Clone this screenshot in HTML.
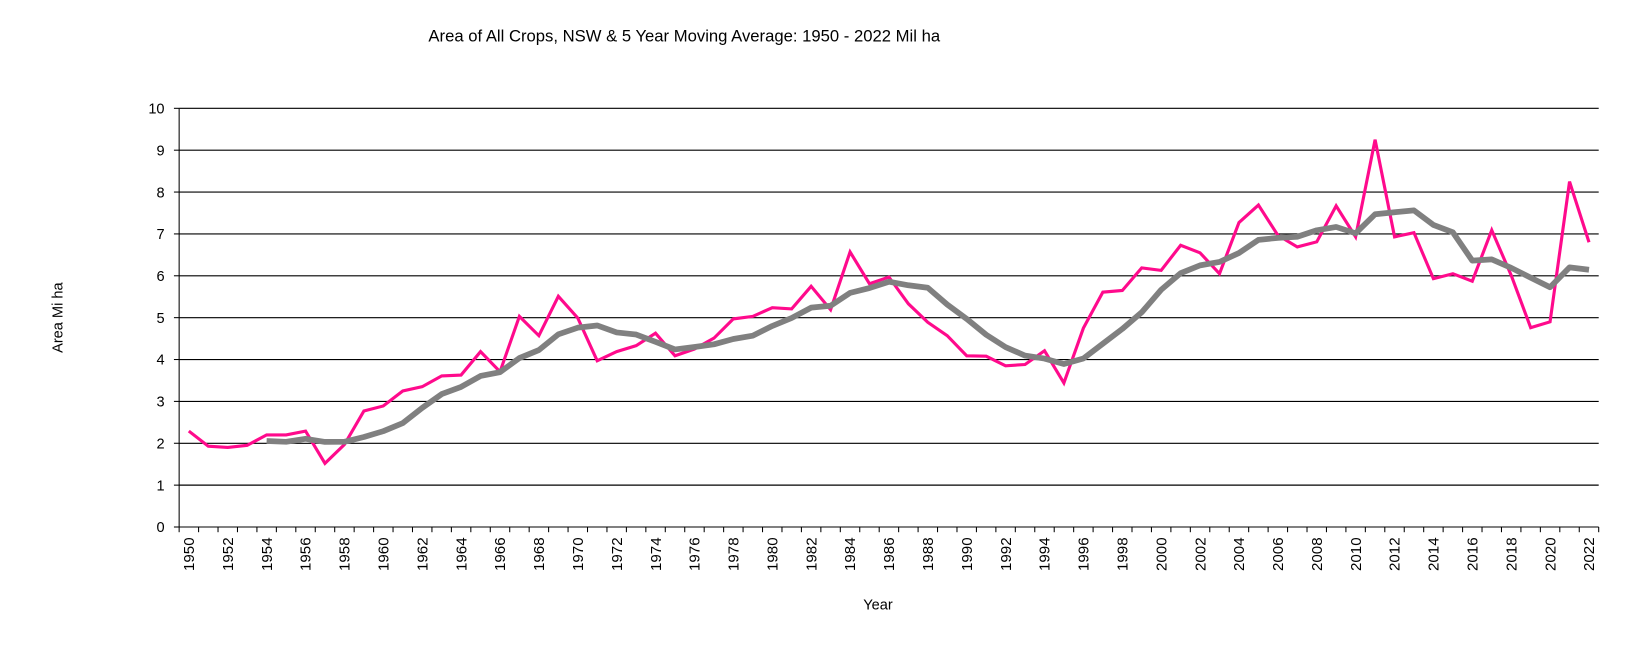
<!DOCTYPE html>
<html><head><meta charset="utf-8"><style>
body{margin:0;background:#fff;}
svg{display:block;font-family:"Liberation Sans",Arial,sans-serif;}
</style></head><body>
<svg id="s" width="1633" height="656" viewBox="0 0 1633 656" xmlns="http://www.w3.org/2000/svg">
<g transform="scale(1.0415)">
<text x="657" y="40" font-size="16" text-anchor="middle">Area of All Crops, NSW &amp; 5 Year Moving Average: 1950 - 2022 Mil ha</text>
<text transform="translate(60,305) rotate(-90)" font-size="14" text-anchor="middle">Area Mi ha</text>
<text x="843" y="585" font-size="14" text-anchor="middle">Year</text>
<g id="g"></g>
</g>
</svg>
<script>
var d=[2.29,1.93,1.9,1.95,2.2,2.2,2.29,1.52,1.97,2.77,2.89,3.25,3.35,3.61,3.63,4.19,3.71,5.03,4.57,5.51,4.99,3.97,4.19,4.33,4.63,4.09,4.25,4.51,4.97,5.03,5.24,5.21,5.75,5.19,6.57,5.81,5.97,5.33,4.89,4.57,4.09,4.08,3.85,3.88,4.21,3.44,4.75,5.61,5.65,6.19,6.13,6.73,6.55,6.05,7.27,7.69,6.97,6.69,6.81,7.67,6.93,9.25,6.93,7.03,5.93,6.05,5.87,7.09,6.01,4.76,4.9,8.25,6.8];
var L=172,R=1535,T=104,B=506,n=73,w=(R-L)/n;
function X(i){return L+w*(i+0.5);}function Y(v){return B-(B-T)*v/10;}
var h='';
for(var k=1;k<=10;k++){h+='<line x1="'+L+'" x2="'+R+'" y1="'+Y(k)+'" y2="'+Y(k)+'" stroke="#000" stroke-width="1.1"/>';}
for(var k=0;k<=10;k++){h+='<line x1="'+(L-5)+'" x2="'+L+'" y1="'+Y(k)+'" y2="'+Y(k)+'" stroke="#000"/><text x="'+(L-14)+'" y="'+(Y(k)+5)+'" font-size="14" text-anchor="end">'+k+'</text>';}
h+='<line x1="'+L+'" x2="'+L+'" y1="'+T+'" y2="'+B+'" stroke="#000"/>';
h+='<line x1="'+L+'" x2="'+R+'" y1="'+B+'" y2="'+B+'" stroke="#000"/>';
for(var i=0;i<=n;i++){var x=L+w*i;h+='<line x1="'+x+'" x2="'+x+'" y1="'+B+'" y2="'+(B+5)+'" stroke="#000"/>';}
for(var i=0;i<n;i+=2){h+='<text transform="translate('+(X(i)+5)+','+(B+10)+') rotate(-90)" font-size="14.5" text-anchor="end">'+(1950+i)+'</text>';}
var p='';for(var i=0;i<n;i++)p+=X(i).toFixed(1)+','+Y(d[i]).toFixed(1)+' ';
var m='';for(var i=4;i<n;i++){var s=0;for(var j=i-4;j<=i;j++)s+=d[j];m+=X(i).toFixed(1)+','+Y(s/5).toFixed(1)+' ';}
h+='<polyline points="'+p+'" fill="none" stroke="#ff0a8c" stroke-width="3" stroke-linejoin="miter"/>';
h+='<polyline points="'+m+'" fill="none" stroke="#808080" stroke-width="5.5" stroke-linejoin="round"/>';
document.getElementById('g').innerHTML=h;
</script>
</body></html>
